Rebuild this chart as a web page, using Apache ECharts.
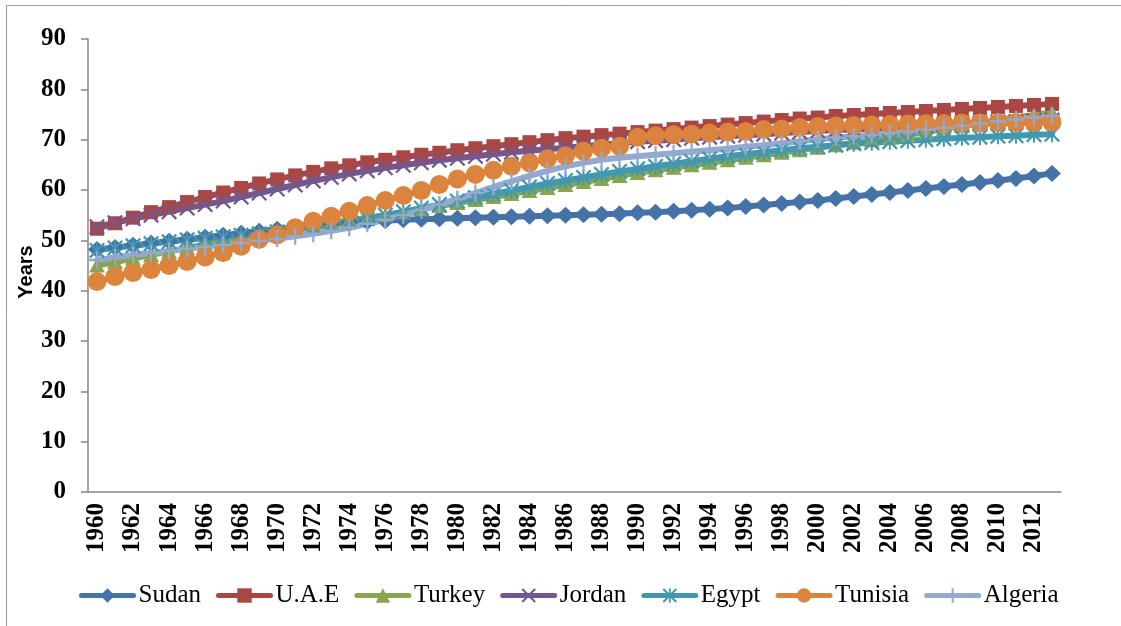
<!DOCTYPE html>
<html>
<head>
<meta charset="utf-8">
<title>Life expectancy at birth, 1960–2013</title>
<script src="https://cdn.jsdelivr.net/npm/echarts@6/dist/echarts.min.js"></script>
<style>
  html, body { margin: 0; padding: 0; background: #ffffff; }
  #chart { width: 1121px; height: 626px; }
</style>
</head>
<body>
<div id="chart"></div>
<script>
// Years on the category axis
const years = [];
for (let y = 1960; y <= 2013; y++) years.push(String(y));

// Life expectancy at birth (years), 1960..2013
const sudan = [48.2, 48.6, 49.0, 49.4, 49.8, 50.2, 50.6, 51.0, 51.4, 51.8,
  52.2, 52.6, 52.9, 53.2, 53.5, 53.7, 53.9, 54.1, 54.2, 54.3,
  54.4, 54.5, 54.6, 54.7, 54.8, 54.9, 55.0, 55.1, 55.2, 55.3,
  55.5, 55.6, 55.8, 56.0, 56.2, 56.4, 56.7, 57.0, 57.3, 57.6,
  57.9, 58.3, 58.7, 59.1, 59.5, 59.9, 60.3, 60.7, 61.1, 61.5,
  61.9, 62.3, 62.8, 63.3];
const uae = [52.3, 53.4, 54.5, 55.6, 56.6, 57.6, 58.6, 59.5, 60.4, 61.3,
  62.1, 62.9, 63.6, 64.3, 64.9, 65.5, 66.0, 66.5, 67.0, 67.4,
  67.9, 68.3, 68.7, 69.1, 69.5, 69.9, 70.3, 70.6, 70.9, 71.2,
  71.5, 71.8, 72.1, 72.4, 72.7, 73.0, 73.3, 73.6, 73.9, 74.2,
  74.4, 74.7, 74.9, 75.1, 75.3, 75.5, 75.7, 75.9, 76.1, 76.3,
  76.5, 76.7, 76.9, 77.1];
const turkey = [45.0, 45.7, 46.4, 47.1, 47.8, 48.5, 49.2, 49.9, 50.6, 51.3,
  52.0, 52.5, 53.0, 53.5, 54.0, 54.5, 55.0, 55.6, 56.2, 56.8,
  57.4, 58.0, 58.6, 59.2, 59.8, 60.4, 61.0, 61.6, 62.2, 62.8,
  63.4, 63.9, 64.4, 64.9, 65.4, 65.9, 66.4, 66.9, 67.4, 67.9,
  68.4, 68.9, 69.4, 69.9, 70.4, 70.9, 71.5, 72.1, 72.7, 73.3,
  73.9, 74.4, 74.9, 75.4];
const jordan = [52.7, 53.5, 54.3, 55.0, 55.7, 56.4, 57.1, 57.8, 58.6, 59.4,
  60.2, 61.0, 61.8, 62.5, 63.2, 63.8, 64.4, 64.9, 65.4, 65.9,
  66.3, 66.7, 67.1, 67.5, 67.8, 68.1, 68.4, 68.7, 69.0, 69.3,
  69.6, 69.8, 70.0, 70.3, 70.5, 70.7, 70.9, 71.1, 71.3, 71.5,
  71.7, 71.9, 72.0, 72.2, 72.4, 72.6, 72.8, 73.0, 73.2, 73.3,
  73.5, 73.6, 73.8, 73.9];
const egypt = [48.0, 48.5, 48.9, 49.3, 49.7, 50.1, 50.4, 50.7, 51.0, 51.3,
  51.7, 52.1, 52.6, 53.1, 53.7, 54.3, 55.0, 55.7, 56.4, 57.1,
  57.8, 58.5, 59.2, 59.9, 60.6, 61.3, 61.9, 62.5, 63.1, 63.7,
  64.2, 64.7, 65.2, 65.7, 66.2, 66.7, 67.1, 67.5, 67.9, 68.3,
  68.6, 68.9, 69.2, 69.4, 69.6, 69.8, 70.0, 70.2, 70.4, 70.5,
  70.7, 70.8, 71.0, 71.1];
const tunisia = [41.8, 42.8, 43.6, 44.2, 45.0, 45.8, 46.7, 47.6, 48.8, 50.2,
  51.1, 52.5, 53.8, 54.8, 55.8, 56.9, 57.9, 58.9, 59.9, 61.1,
  62.2, 63.1, 63.9, 64.7, 65.4, 66.2, 66.8, 67.7, 68.3, 68.7,
  70.5, 70.8, 71.0, 71.1, 71.3, 71.5, 71.6, 72.0, 72.1, 72.4,
  72.6, 72.7, 72.8, 72.9, 73.0, 73.1, 73.2, 73.2, 73.3, 73.3,
  73.4, 73.4, 73.5, 73.5];
const algeria = [46.1, 46.6, 47.1, 47.5, 47.9, 48.3, 48.7, 49.1, 49.5, 49.9,
  50.3, 50.8, 51.3, 51.9, 52.5, 53.3, 54.1, 55.0, 56.0, 57.1,
  58.2, 59.4, 60.6, 61.7, 62.8, 63.8, 64.7, 65.4, 66.0, 66.4,
  66.7, 67.0, 67.3, 67.6, 67.9, 68.2, 68.6, 68.9, 69.3, 69.7,
  70.1, 70.4, 70.7, 71.0, 71.3, 71.6, 72.0, 72.4, 72.8, 73.2,
  73.6, 74.0, 74.4, 74.7];

const countryNames = ['Sudan', 'U.A.E', 'Turkey', 'Jordan', 'Egypt', 'Tunisia', 'Algeria'];
const countryValues = [sudan, uae, turkey, jordan, egypt, tunisia, algeria];
const countryColors = ['#4572A7', '#AA4643', '#89A54E', '#71588F', '#4198AF', '#DB843D', '#93A9CF'];

// Marker shapes: cross, asterisk and plus drawn as thin filled outlines
const crossPath = 'path://M0,1 L1,0 L5,4 L9,0 L10,1 L6,5 L10,9 L9,10 L5,6 L1,10 L0,9 L4,5 Z';
const starPath = 'path://M0,1 L1,0 L5,4 L9,0 L10,1 L6,5 L10,9 L9,10 L5,6 L1,10 L0,9 L4,5 Z M4.4,0 L5.6,0 L5.6,10 L4.4,10 Z';
const plusPath = 'path://M4.3,0 L5.7,0 L5.7,4.3 L10,4.3 L10,5.7 L5.7,5.7 L5.7,10 L4.3,10 L4.3,5.7 L0,5.7 L0,4.3 L4.3,4.3 Z';

const symbols = ['diamond', 'rect', 'triangle', crossPath, starPath, 'circle', plusPath];
const symbolSizes = [[18, 17], 14, [16, 14], 16, 16, 19, [16, 17]];

const serif = '"Liberation Serif", "Times New Roman", serif';

const chart = echarts.init(document.getElementById('chart'), null, { renderer: 'canvas' });

const series = countryNames.map((name, i) => ({
  name: name,
  type: 'line',
  data: countryValues[i],
  symbol: symbols[i],
  symbolSize: symbolSizes[i],
  showAllSymbol: true,
  smooth: false,
  color: countryColors[i],
  lineStyle: { width: 6, color: countryColors[i], cap: 'round', join: 'round' },
  itemStyle: { color: countryColors[i], borderWidth: 0 },
  emphasis: { disabled: true },
  animation: false
}));

chart.setOption({
  backgroundColor: '#ffffff',
  animation: false,
  graphic: [{
    type: 'rect',
    shape: { x: 6.5, y: 5.5, width: 1140, height: 660 },
    style: { fill: 'none', stroke: '#9a9a9a', lineWidth: 1 },
    silent: true
  }, {
    // vertical axis title
    type: 'text',
    x: 26, y: 272,
    rotation: Math.PI / 2,
    style: {
      text: 'Years', fill: '#000', align: 'center', verticalAlign: 'middle',
      font: 'bold 20px "Liberation Sans", Arial, sans-serif'
    },
    silent: true
  }],
  grid: { left: 88, right: 60, top: 39, bottom: 134, containLabel: false },
  xAxis: {
    type: 'category',
    data: years,
    boundaryGap: true,
    axisLine: { lineStyle: { color: '#868686', width: 1.5 } },
    axisTick: { interval: 0, length: 6, lineStyle: { color: '#868686', width: 1.5 } },
    axisLabel: {
      interval: 1, rotate: 90, margin: 11,
      color: '#000', fontFamily: serif, fontWeight: 'bold', fontSize: 25
    },
    splitLine: { show: false }
  },
  yAxis: {
    type: 'value',
    min: 0, max: 90, interval: 10,
    axisLine: { show: true, lineStyle: { color: '#868686', width: 1.5 } },
    axisTick: { show: true, length: 7, lineStyle: { color: '#868686', width: 1.5 } },
    axisLabel: { margin: 22, color: '#000', fontFamily: serif, fontWeight: 'bold', fontSize: 25 },
    splitLine: { show: false }
  },
  legend: {
    data: countryNames,
    left: 74,
    top: 578,
    itemWidth: 52,
    itemHeight: 18,
    itemGap: 15,
    lineStyle: { width: 5 },
    textStyle: { color: '#000', fontFamily: serif, fontSize: 25 },
    selectedMode: false
  },
  series: series
});
</script>
</body>
</html>
